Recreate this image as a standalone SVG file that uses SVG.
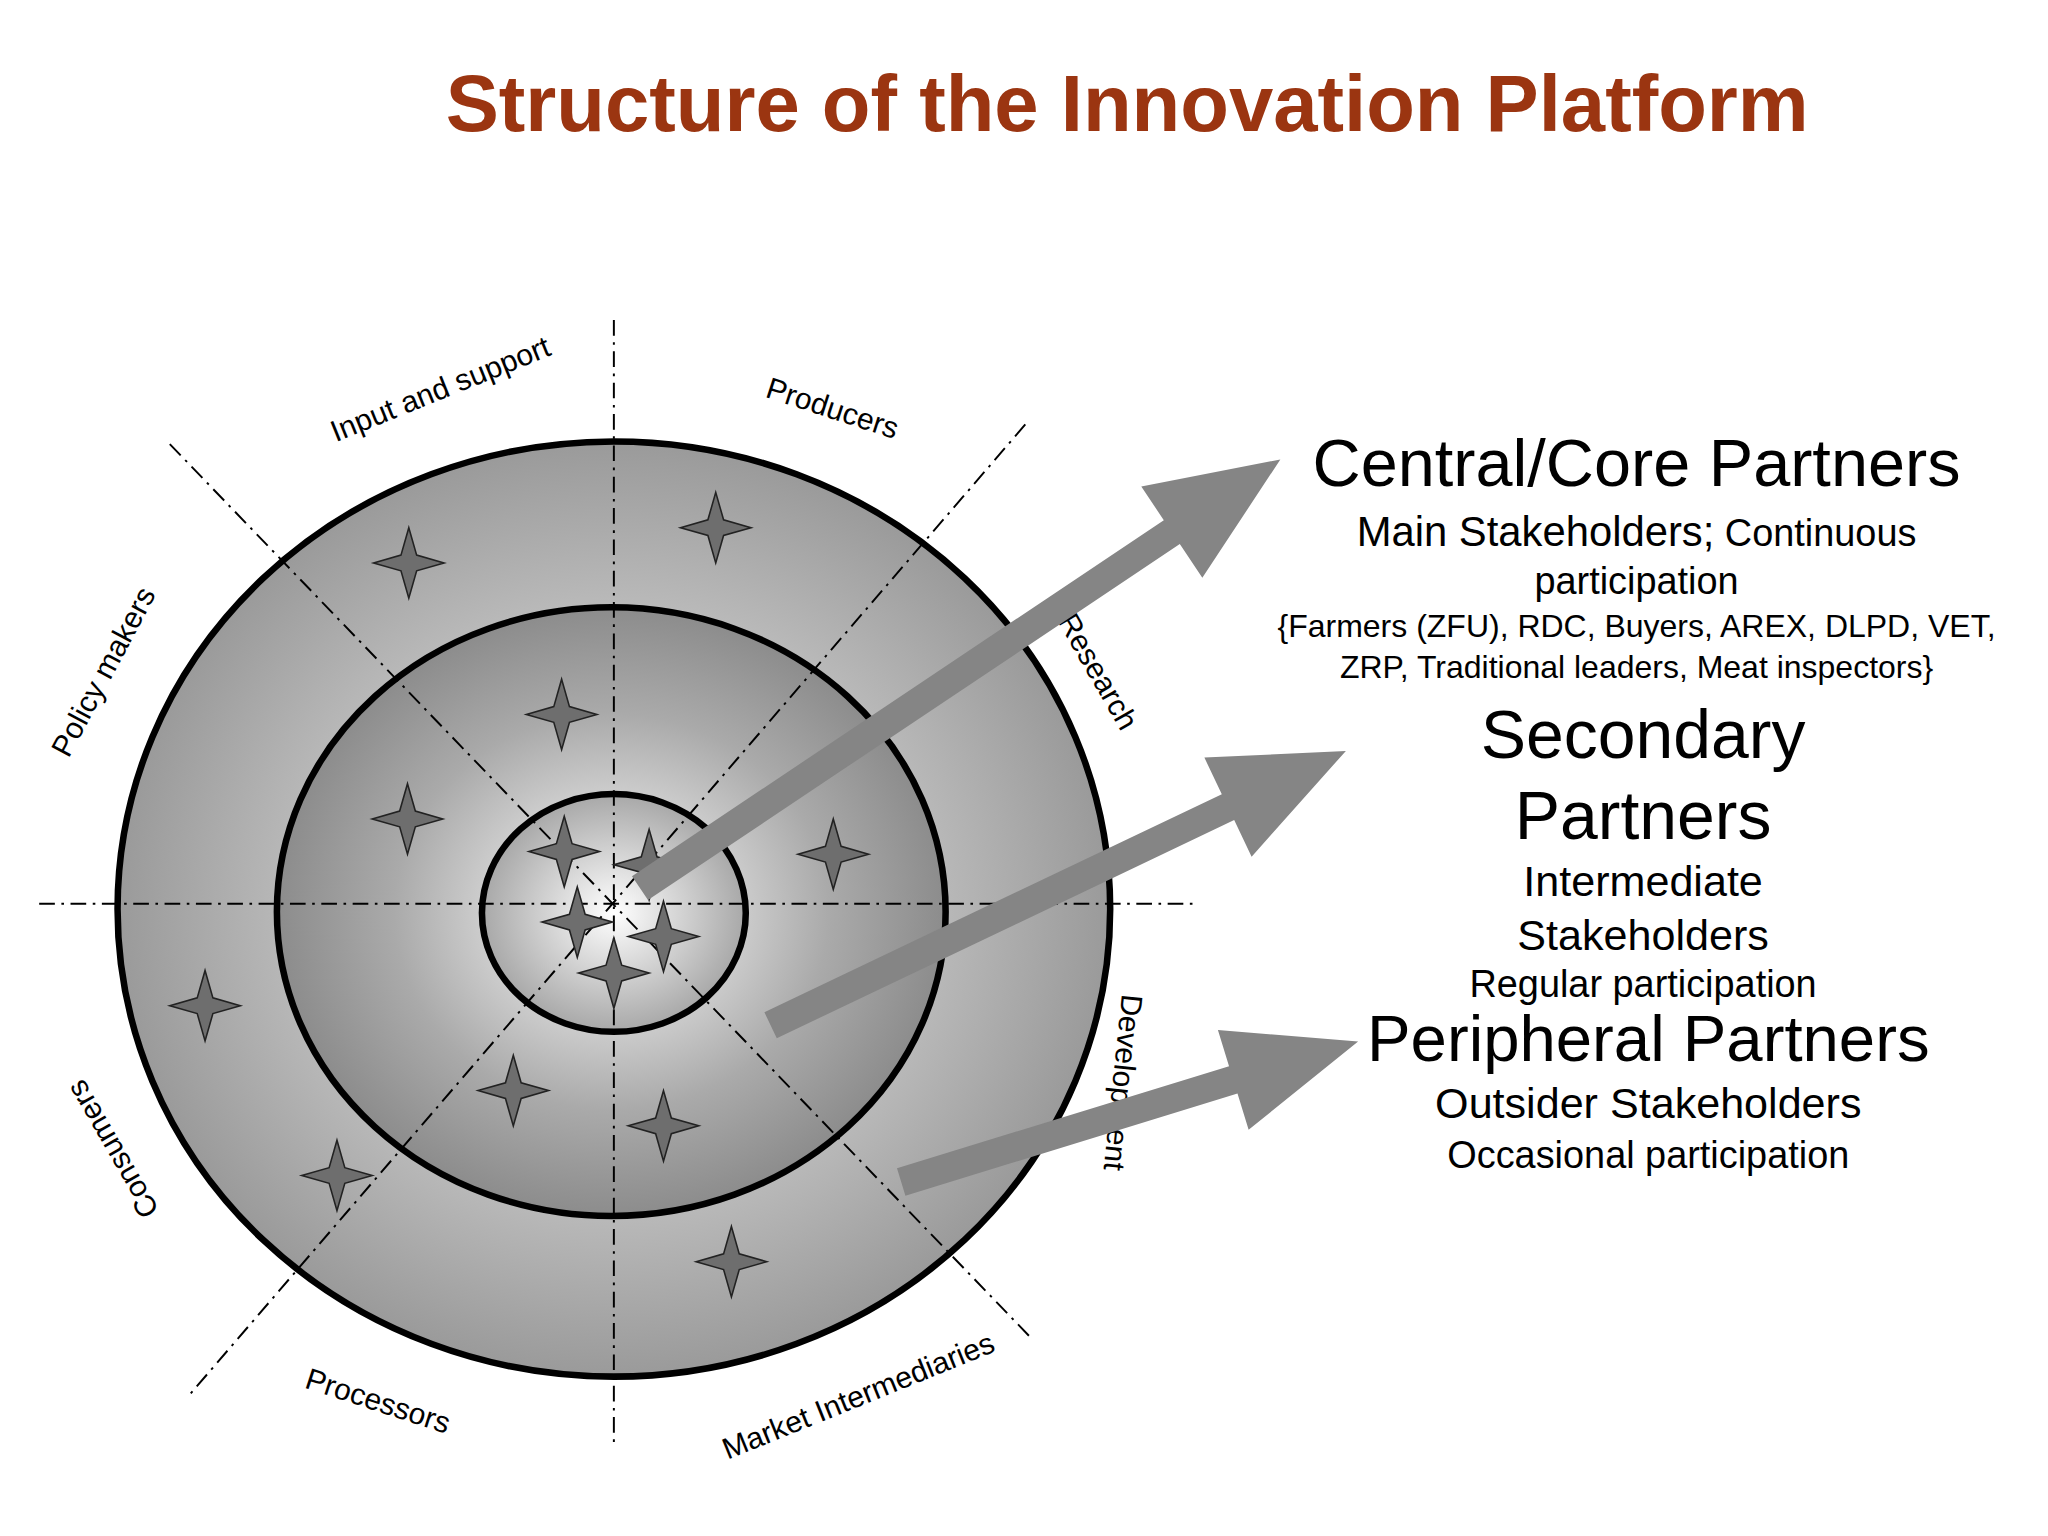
<svg xmlns="http://www.w3.org/2000/svg" width="2048" height="1536" viewBox="0 0 2048 1536">
<defs>
<radialGradient id="g" cx="0.5" cy="0.5" r="0.5">
<stop offset="0" stop-color="#ffffff"/>
<stop offset="0.3" stop-color="#d8d8d8"/>
<stop offset="0.65" stop-color="#aaaaaa"/>
<stop offset="1" stop-color="#8c8c8c"/>
</radialGradient>
<radialGradient id="g2" cx="0.5" cy="0.5" r="0.5">
<stop offset="0" stop-color="#f4f4f4"/>
<stop offset="1" stop-color="#9a9a9a"/>
</radialGradient>
<radialGradient id="g3" cx="0.5" cy="0.5" r="0.5">
<stop offset="0" stop-color="#ffffff"/>
<stop offset="1" stop-color="#a8a8a8"/>
</radialGradient>
<path id="star" d="M0,-27 L6,-6 L27,0 L6,6 L0,27 L-6,6 L-27,0 L-6,-6 Z"/>
</defs>
<style>
.ring{stroke:#000;stroke-width:5}
.dd{stroke:#000;stroke-width:1.5;stroke-dasharray:12,5,2,5;fill:none}
.st{fill:#6e6e6e;stroke:#222;stroke-width:1.2}
.lab{font-family:"Liberation Sans",Arial,sans-serif;font-size:23px;fill:#000;text-anchor:middle}
.rt{font-family:"Liberation Sans",Arial,sans-serif;fill:#000;text-anchor:middle}
.arr{fill:#858585}
</style>
<rect width="2048" height="1536" fill="#fff"/>
<g transform="scale(1.3061)">
<text x="863" y="100" class="rt" style="font-size:61px;font-weight:bold;fill:#9b3511">Structure of the Innovation Platform</text>
<g id="rings">
<ellipse class="ring" cx="470" cy="696" rx="380" ry="358" fill="url(#g2)"/>
<ellipse class="ring" cx="468" cy="698" rx="256" ry="233" fill="url(#g)"/>
<ellipse class="ring" cx="470" cy="699" rx="101" ry="91" fill="url(#g3)"/>
</g>
<g id="lines">
<line class="dd" x1="470" y1="245" x2="470" y2="1108"/>
<line class="dd" x1="30" y1="692" x2="915" y2="692"/>
<line class="dd" x1="130" y1="340" x2="790" y2="1025"/>
<line class="dd" x1="785" y1="325" x2="145" y2="1068"/>
</g>
<g id="stars">
<use href="#star" class="st" x="313" y="431"/>
<use href="#star" class="st" x="548" y="404"/>
<use href="#star" class="st" x="430" y="547"/>
<use href="#star" class="st" x="312" y="627"/>
<use href="#star" class="st" x="638" y="654"/>
<use href="#star" class="st" x="432" y="652"/>
<use href="#star" class="st" x="497" y="662"/>
<use href="#star" class="st" x="442" y="706"/>
<use href="#star" class="st" x="508" y="717"/>
<use href="#star" class="st" x="470" y="745"/>
<use href="#star" class="st" x="157" y="770"/>
<use href="#star" class="st" x="393" y="835"/>
<use href="#star" class="st" x="508" y="862"/>
<use href="#star" class="st" x="258" y="900"/>
<use href="#star" class="st" x="560" y="966"/>
</g>
<g id="labels">
<text class="lab" transform="translate(340,305) rotate(-22)">Input and support</text>
<text class="lab" transform="translate(635,320) rotate(18)">Producers</text>
<text class="lab" transform="translate(834,518) rotate(60)">Research</text>
<text class="lab" transform="translate(852,828) rotate(96)">Development</text>
<text class="lab" transform="translate(660,1076) rotate(-22)">Market Intermediaries</text>
<text class="lab" transform="translate(287,1080) rotate(18)">Processors</text>
<text class="lab" transform="translate(93,876) rotate(-120)">Consumers</text>
<text class="lab" transform="translate(86,518) rotate(-62)">Policy makers</text>
</g>
<g id="arrows">
<polygon class="arr" transform="translate(490,680) rotate(-33.8)" points="0,-11 490,-11 490,-42 590,0 490,42 490,11 0,11"/>
<polygon class="arr" transform="translate(590,785) rotate(-25.5)" points="0,-11 388,-11 388,-42 488,0 388,42 388,11 0,11"/>
<polygon class="arr" transform="translate(690,905) rotate(-17.1)" points="0,-11 266,-11 266,-40 366,0 266,40 266,11 0,11"/>
</g>
<g id="text-core">
<text class="rt" x="1253" y="372" style="font-size:51px">Central/Core Partners</text>
<text class="rt" x="1253" y="418"><tspan style="font-size:32px">Main Stakeholders;</tspan><tspan style="font-size:29px"> Continuous</tspan></text>
<text class="rt" x="1253" y="455" style="font-size:29px">participation</text>
<text class="rt" x="1253" y="488" style="font-size:24.5px">{Farmers (ZFU), RDC, Buyers, AREX, DLPD, VET,</text>
<text class="rt" x="1253" y="519" style="font-size:24.5px">ZRP, Traditional leaders, Meat inspectors}</text>
</g>
<g id="text-secondary">
<text class="rt" x="1258" y="580" style="font-size:52px">Secondary</text>
<text class="rt" x="1258" y="642" style="font-size:52px">Partners</text>
<text class="rt" x="1258" y="686" style="font-size:33px">Intermediate</text>
<text class="rt" x="1258" y="727" style="font-size:33px">Stakeholders</text>
<text class="rt" x="1258" y="763" style="font-size:29px">Regular participation</text>
</g>
<g id="text-peripheral">
<text class="rt" x="1262" y="812" style="font-size:50px">Peripheral Partners</text>
<text class="rt" x="1262" y="856" style="font-size:33px">Outsider Stakeholders</text>
<text class="rt" x="1262" y="894" style="font-size:29px">Occasional participation</text>
</g>
</g>
</svg>
